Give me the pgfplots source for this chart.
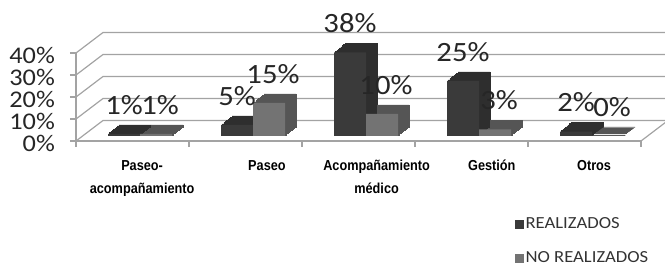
\documentclass[border=0pt]{standalone}
\usepackage{fontspec}
\setmainfont{Carlito}[FakeStretch=1.1]
\newfontfamily\catfont{Liberation Sans}[FakeStretch=0.88]
\usepackage{pgfplots}
\pgfplotsset{compat=1.18}
\usepackage{pgfplotstable}
\definecolor{darkF}{HTML}{3A3A3A}
\definecolor{darkS}{HTML}{2E2E2E}
\definecolor{grayF}{HTML}{737373}
\definecolor{grayS}{HTML}{555555}
\definecolor{gridc}{HTML}{A3A3A3}
\pgfplotstableread{
x d g
0 1 1
1 5 15
2 38 10
3 25 3
4 2 0
}\datatable
\begin{document}
\begin{tikzpicture}
\path[use as bounding box] (0bp,0bp) rectangle (665bp,266bp);
\begin{axis}[
  at={(76bp,125bp)}, anchor=south west,
  scale only axis, width=565bp, height=88bp,
  xmin=-0.5, xmax=4.5, ymin=0, ymax=40,
  clip=false,
  axis lines*=left,
  axis line style={gridc, line width=1.2bp},
  tick style={gridc, line width=1.2bp},
  tick align=outside, major tick length=6bp,
  xtick={-0.5,0.5,1.5,2.5,3.5,4.5}, xticklabels={},
  extra x ticks={0.085,1.19,2.16,3.18,4.085},
  extra x tick labels={{Paseo-\\acompañamiento},{Paseo},{Acompañamiento\\médico},{Gestión},{Otros}},
  extra x tick style={major tick length=0pt},
  xticklabel style={font=\fontsize{14.5}{23}\selectfont\catfont\bfseries, align=center, anchor=north, inner sep=0pt, yshift=-19bp},
  ytick={0,10,20,30,40}, yticklabels={0\%,10\%,20\%,30\%,40\%},
  yticklabel style={font=\fontsize{24}{24}\selectfont, text=black!85, anchor=east, inner sep=0pt, yshift=-2.5bp, xshift=-15bp},
  legend style={at={(0.777,-0.85)}, anchor=north west, draw=none, fill=none, inner sep=0pt,
    font=\fontsize{17}{20}\selectfont, text=black!80, row sep=17bp, cells={anchor=west}},
]
\pgfplotsinvokeforeach{0,10,20,30,40}{
  \draw[gridc, line width=1.2bp] (axis cs:-0.5,#1) -- ++(27bp,20.5bp) -- ([shift={(27bp,20.5bp)}]axis cs:4.5,#1);
}
\draw[gridc, line width=1.2bp] (axis cs:4.5,0) -- ++(27bp,20.5bp);
\pgfplotsinvokeforeach{1,...,8}{
  \addplot[ybar, bar width=32bp, bar shift=-8.5bp, fill=darkS, draw=darkS, line width=0.5bp,
    xshift=#1*1.375bp, yshift=5bp+#1*1.125bp, forget plot] table[x=x,y=d]{\datatable};
  \addplot[ybar, bar width=32bp, bar shift=23.5bp, fill=grayS, draw=grayS, line width=0.5bp,
    xshift=#1*1.375bp, yshift=5bp+#1*1.125bp, forget plot] table[x=x,y=g]{\datatable};
}
\addplot[ybar, bar width=32bp, bar shift=-8.5bp, fill=darkF, draw=none, yshift=5bp, forget plot,
  nodes near coords={\pgfmathprintnumber[assume math mode=true]{\pgfplotspointmeta}\%},
  every node near coord/.append style={font=\fontsize{28}{28}\selectfont, text=black!85, anchor=center, xshift=-8.5bp, yshift=29bp}]
  table[x=x,y=d]{\datatable};
\addplot[ybar, bar width=32bp, bar shift=23.5bp, fill=grayF, draw=none, yshift=5bp, forget plot,
  nodes near coords={\pgfmathprintnumber[assume math mode=true]{\pgfplotspointmeta}\%},
  every node near coord/.append style={font=\fontsize{28}{28}\selectfont, text=black!85, anchor=center, xshift=27.5bp, yshift=29bp}]
  table[x=x,y=g]{\datatable};
\addlegendimage{legend image code/.code={\fill[darkF] (0bp,-4bp) rectangle (8bp,4bp);}}
\addlegendentry{REALIZADOS}
\addlegendimage{legend image code/.code={\fill[grayF] (0bp,-4bp) rectangle (8bp,4bp);}}
\addlegendentry{NO REALIZADOS}
\end{axis}
\end{tikzpicture}
\end{document}
